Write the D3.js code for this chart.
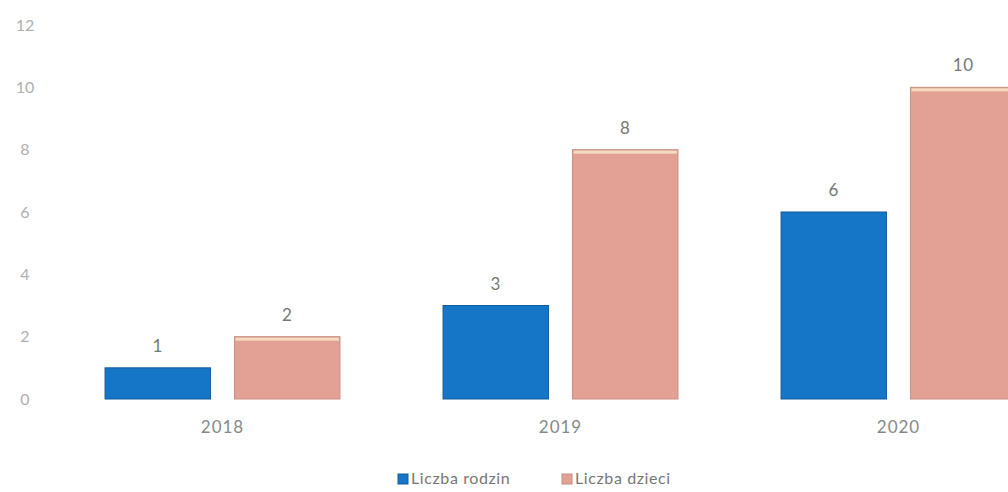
<!DOCTYPE html>
<html><head><meta charset="utf-8">
<script src="https://cdn.jsdelivr.net/npm/d3@7"></script>
<style>
html,body{margin:0;padding:0;background:#fff;overflow:hidden}
svg{display:block;font-family:Lato, "Open Sans", sans-serif}
</style></head>
<body><svg id="c" width="1008" height="492"></svg>
<script>
const categories = ["2018", "2019", "2020"];
const seriesNames = ["Liczba rodzin", "Liczba dzieci"];
const rodzin = [1, 3, 6];
const dzieci = [2, 8, 10];
const yTicks = [0, 2, 4, 6, 8, 10, 12];
const colors = ["#1575c6", "#e2a194"];

const svg = d3.select("#c");
const y = d3.scaleLinear().domain([0, 12]).range([399, 25]);
const x0 = d3.scaleBand().domain(categories).range([53.5, 1067.5]).paddingInner(0.305).paddingOuter(0.1525);
const x1 = d3.scaleBand().domain(seriesNames).range([0, x0.bandwidth()]).paddingInner(0.185).paddingOuter(0);

const data = categories.map((c, i) => ({cat: c, vals: [rodzin[i], dzieci[i]]}));

// y axis
const yAxis = d3.axisLeft(y).tickValues(yTicks).tickSize(0).tickPadding(0);
const ga = svg.append("g").attr("transform", "translate(25,0)").call(yAxis);
ga.select(".domain").remove();
ga.selectAll("text").attr("text-anchor", "middle").attr("fill", "#b0b0b0").attr("font-size", 16).attr("font-family", "Lato, sans-serif");

// x axis labels
const xAxis = d3.axisBottom(x0).tickSize(0).tickPadding(0);
const gx = svg.append("g").attr("transform", "translate(0,421)").call(xAxis);
gx.select(".domain").remove();
gx.selectAll("text").attr("fill", "#888").attr("font-size", 17).attr("letter-spacing", 1).attr("font-family", "Lato, sans-serif");

// bars
const groups = svg.append("g").selectAll("g").data(data).join("g")
  .attr("transform", d => `translate(${x0(d.cat)},0)`);
groups.selectAll("rect.bar").data(d => d.vals.map((v, j) => ({v, s: seriesNames[j], j})))
  .join("rect").attr("class", "bar")
  .attr("x", d => x1(d.s)).attr("width", x1.bandwidth())
  .attr("y", d => y(d.v)).attr("height", d => y(0) - y(d.v))
  .attr("fill", d => colors[d.j])
  .attr("stroke", d => d.j === 0 ? "#135c9c" : "#c98f84").attr("stroke-width", 1);
// highlight on pink tops
groups.selectAll("rect.hl").data(d => d.vals.map((v, j) => ({v, s: seriesNames[j], j})).filter(d => d.j === 1))
  .join("rect").attr("class", "hl")
  .attr("x", d => x1(d.s) + 1).attr("width", x1.bandwidth() - 2)
  .attr("y", d => y(d.v) + 1).attr("height", 3)
  .attr("fill", "#f5dcc0");
// value labels
groups.selectAll("text.val").data(d => d.vals.map((v, j) => ({v, s: seriesNames[j], j})))
  .join("text").attr("class", "val")
  .attr("x", d => x1(d.s) + x1.bandwidth() / 2)
  .attr("y", d => y(d.v) - 16)
  .attr("text-anchor", "middle").attr("font-size", 17).attr("letter-spacing", 0.5).attr("fill", "#777")
  .text(d => d.v);

// legend
const leg = svg.append("g").attr("transform", "translate(398,474)");
const items = [{n: seriesNames[0], x: 0}, {n: seriesNames[1], x: 164}];
items.forEach((it, j) => {
  const g = leg.append("g").attr("transform", `translate(${it.x},0)`);
  g.append("rect").attr("x", 0).attr("y", 0).attr("width", 10).attr("height", 10)
    .attr("fill", colors[j]).attr("stroke", j === 0 ? "#135c9c" : "#c98f84");
  g.append("text").attr("x", 13).attr("y", 10).attr("font-size", 16).attr("letter-spacing", 0.6).attr("fill", "#777").text(it.n);
});
</script></body></html>
